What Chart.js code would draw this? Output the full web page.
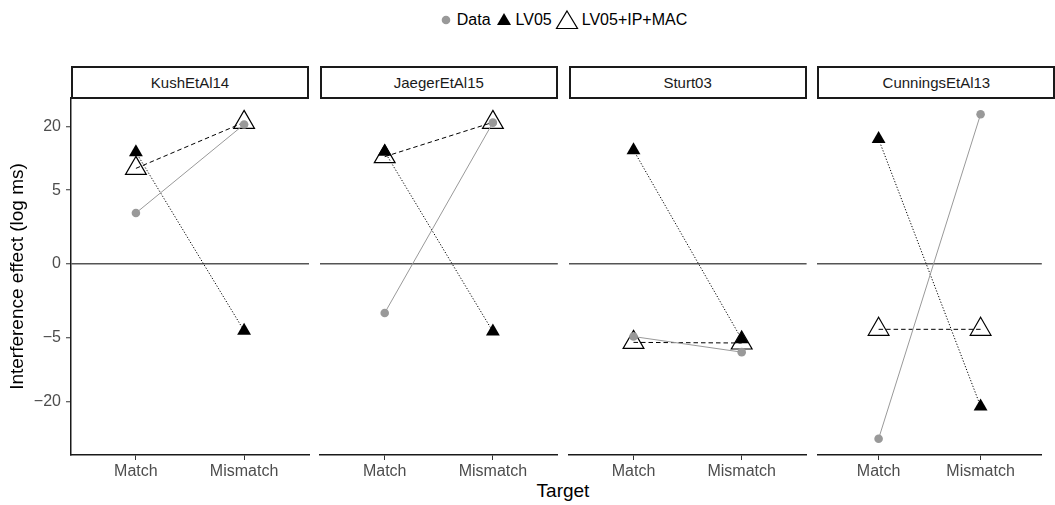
<!DOCTYPE html>
<html>
<head>
<meta charset="utf-8">
<script src="https://cdn.jsdelivr.net/npm/chart.js@4.4.0/dist/chart.umd.min.js"></script>
<style>
  html, body { margin: 0; padding: 0; background: #fff; }
  #wrap { position: relative; width: 1055px; height: 505px; overflow: hidden;
          font-family: "Liberation Sans", Arial, Helvetica, sans-serif; }
  #wrap canvas { position: absolute; left: 0; top: 0; }
  .strip { position: absolute; box-sizing: border-box; border: 2px solid #1a1a1a; background: #fff;
           display: flex; align-items: center; justify-content: center;
           font-size: 15px; color: #1a1a1a; }
  #legend { position: absolute; top: 9px; left: 71px; width: 984px; display: flex; align-items: center;
            justify-content: center; font-size: 16px; color: #000; white-space: nowrap; }
  #legend svg { display: block; }
  #xtitle { position: absolute; left: 71px; width: 984px; top: 480px; text-align: center;
            font-size: 19px; color: #000; }
</style>
</head>
<body>
<div id="wrap">
  <div id="legend">
    <svg width="14" height="20" viewBox="0 0 14 20"><circle cx="7" cy="10" r="4.3" fill="#999"/></svg>
    <span style="margin:0 5px 0 4px">Data</span>
    <svg width="16" height="20" viewBox="0 0 16 20"><polygon points="8,3 15,15 1,15" fill="#000"/></svg>
    <span style="margin:0 3px 0 4px">LV05</span>
    <svg width="24" height="22" viewBox="0 0 24 22"><polygon points="12,2 22.5,19.5 1.5,19.5" fill="none" stroke="#000" stroke-width="1.2"/></svg>
    <span style="margin-left:3px">LV05+IP+MAC</span>
  </div>
  <div id="xtitle">Target</div>
</div>
<script>
// Studies shown as facets, and the two target conditions on each x axis
const studies = ['KushEtAl14', 'JaegerEtAl15', 'Sturt03', 'CunningsEtAl13'];
const targets = ['Match', 'Mismatch'];

// Interference effect per study: [Match, Mismatch]
const observed  = [[2.2, 20.6], [-2.0, 21.2], [-4.8, -7.4], [-33.9, 24.1]];
const lv05      = [[12.6, -4.0], [12.7, -4.1], [13.1, -5.2], [16.1, -21.5]];
const lv05IpMac = [[8.9, 21.3], [11.5, 21.3], [-5.7, -5.8], [-3.8, -3.8]];

// Y axis breaks and their labels
const yTickValues = [-20, -5, 0, 5, 20];
const yTickLabels = ['\u221220', '\u22125', '0', '5', '20'];

// Signed power transform used for the y axis
const POW = 0.45;
const signedPow = v => Math.sign(v) * Math.pow(Math.abs(v), POW);

// y limits: transformed data range plus 5% on each side
const allT = [].concat(...observed, ...lv05, ...lv05IpMac).map(signedPow);
const tMin = Math.min(...allT), tMax = Math.max(...allT);
const span = tMax - tMin;
const yMin = tMin - 0.05 * span, yMax = tMax + 0.05 * span;

const W = 1055, H = 505;
const PANEL_LEFT = 71, PANEL_PITCH = 248.8, PANEL_W = 238;
const PANEL_TOP = 98, PANEL_BOTTOM = 455;
const FONT = '"Liberation Sans", Arial, Helvetica, sans-serif';
const X_AXIS_H = 40;

const wrap = document.getElementById('wrap');

function seriesPoints(pair) {
  return pair.map((v, k) => ({ x: k + 1, y: signedPow(v) }));
}

studies.forEach((name, i) => {
  const left = PANEL_LEFT + i * PANEL_PITCH;
  const right = left + PANEL_W;
  const first = i === 0;
  const yW = first ? PANEL_LEFT : 0;

  // facet strip
  const strip = document.createElement('div');
  strip.className = 'strip';
  strip.style.left = left + 'px';
  strip.style.width = PANEL_W + 'px';
  strip.style.top = '66px';
  strip.style.height = '33px';
  strip.textContent = name;
  wrap.appendChild(strip);

  const canvas = document.createElement('canvas');
  canvas.width = W; canvas.height = H;
  wrap.appendChild(canvas);

  new Chart(canvas, {
    type: 'line',
    data: {
      datasets: [
        {
          label: 'Data',
          data: seriesPoints(observed[i]),
          borderColor: '#999999', borderWidth: 1,
          pointStyle: 'circle', pointRadius: 4.3,
          pointBackgroundColor: '#999999', pointBorderColor: '#999999', pointBorderWidth: 0,
          clip: false
        },
        {
          label: 'LV05',
          data: seriesPoints(lv05[i]),
          borderColor: '#000', borderWidth: 1, borderDash: [1.2, 1.8],
          pointStyle: 'triangle', pointRadius: 8,
          pointBackgroundColor: '#000', pointBorderColor: '#000', pointBorderWidth: 0,
          clip: false
        },
        {
          label: 'LV05+IP+MAC',
          data: seriesPoints(lv05IpMac[i]),
          borderColor: '#000', borderWidth: 1, borderDash: [4.5, 3],
          pointStyle: 'triangle', pointRadius: 12,
          pointBackgroundColor: 'rgba(0,0,0,0)', pointBorderColor: '#000', pointBorderWidth: 1.2,
          clip: false
        }
      ]
    },
    options: {
      responsive: false,
      animation: false,
      devicePixelRatio: 1,
      layout: {
        padding: { left: left - yW, right: W - right, top: PANEL_TOP, bottom: H - PANEL_BOTTOM - X_AXIS_H }
      },
      plugins: { legend: { display: false }, tooltip: { enabled: false } },
      elements: { line: { tension: 0 } },
      scales: {
        x: {
          type: 'linear', min: 0.4, max: 2.6,
          afterBuildTicks: s => { s.ticks = targets.map((_, k) => ({ value: k + 1 })); },
          afterFit: s => { s.height = X_AXIS_H; },
          ticks: {
            callback: (v, k) => targets[k],
            font: { family: FONT, size: 16 }, color: '#4d4d4d',
            padding: 2, maxRotation: 0, autoSkip: false
          },
          grid: { drawOnChartArea: false, drawTicks: true, tickLength: 5, tickColor: '#333', tickWidth: 1 },
          border: { display: true, color: '#1a1a1a', width: 1.5 }
        },
        y: {
          type: 'linear', min: yMin, max: yMax,
          afterBuildTicks: s => { s.ticks = yTickValues.map(v => ({ value: signedPow(v) })); },
          afterFit: s => { s.width = yW; },
          ticks: {
            display: first,
            callback: (v, k) => yTickLabels[k],
            font: { family: FONT, size: 16 }, color: '#4d4d4d', padding: 5
          },
          grid: {
            drawTicks: first, tickLength: 5, tickColor: '#333', tickWidth: 1,
            color: c => (c.tick && c.tick.value === 0) ? '#555555' : 'rgba(0,0,0,0)',
            lineWidth: 1.5
          },
          border: { display: first, color: '#1a1a1a', width: 1.5 },
          title: {
            display: first, text: 'Interference effect (log ms)',
            font: { family: FONT, size: 19 }, color: '#000',
            padding: { top: 6, bottom: 0 }
          }
        }
      }
    }
  });
});
</script>
</body>
</html>
